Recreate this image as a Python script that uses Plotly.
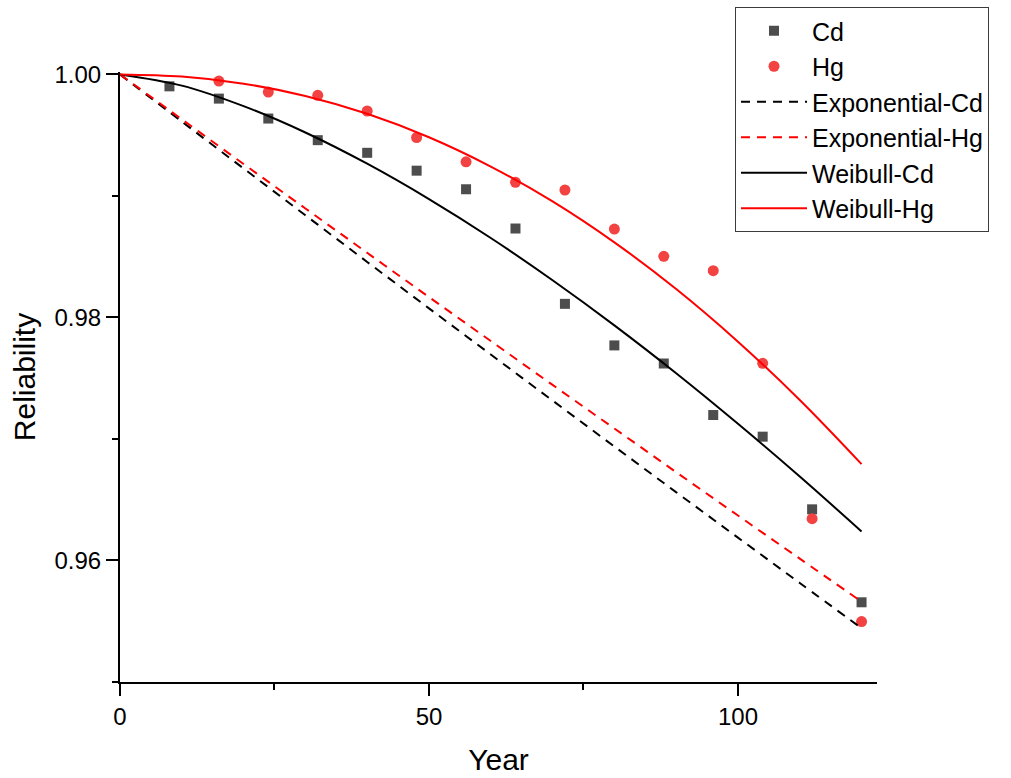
import plotly.graph_objects as go

# Observed data (years, reliability)
cd_years = [8, 16, 24, 32, 40, 48, 56, 64, 72, 80, 88, 96, 104, 112, 120]
cd_rel = [0.99902, 0.99801, 0.99637, 0.99459, 0.99355, 0.99208, 0.99055, 0.98732,
          0.98112, 0.97770, 0.97621, 0.97197, 0.97019, 0.96421, 0.95656]
hg_years = [16, 24, 32, 40, 48, 56, 64, 72, 80, 88, 96, 104, 112, 120]
hg_rel = [0.99945, 0.99855, 0.99828, 0.99699, 0.99481, 0.99281, 0.99112, 0.99049,
          0.98727, 0.98503, 0.98385, 0.97623, 0.96344, 0.95497]

# Fitted curves
curve_years = [0, 10, 20, 30, 40, 50, 60, 70, 80, 90, 100, 110, 120]
exp_cd = [1.0, 0.99612, 0.99226, 0.98841, 0.98457, 0.98075, 0.97695, 0.97316,
          0.96938, 0.96562, 0.96188, 0.95815, 0.95443]
exp_hg = [1.0, 0.99631, 0.99263, 0.98897, 0.98532, 0.98168, 0.97806, 0.97445,
          0.97086, 0.96727, 0.96370, 0.96015, 0.95661]
wei_cd = [1.0, 0.99908, 0.99739, 0.99522, 0.99265, 0.98974, 0.98654, 0.98306,
          0.97935, 0.97541, 0.97125, 0.96691, 0.96239]
wei_hg = [1.0, 0.99982, 0.99924, 0.99823, 0.99676, 0.99483, 0.99242, 0.98955,
          0.98618, 0.98234, 0.97801, 0.97321, 0.96793]

x_ticks = [0, 50, 100]
y_ticks = [0.96, 0.98, 1.00]
y_tick_labels = ["0.96", "0.98", "1.00"]

FONT = "Liberation Sans, Arial, sans-serif"

fig = go.Figure()
fig.add_trace(go.Scatter(x=cd_years, y=cd_rel, mode="markers", name="Cd",
                         marker=dict(symbol="square", size=10, color="rgb(77,77,77)")))
fig.add_trace(go.Scatter(x=hg_years, y=hg_rel, mode="markers", name="Hg",
                         marker=dict(symbol="circle", size=11, color="rgb(242,66,66)")))
fig.add_trace(go.Scatter(x=curve_years, y=exp_cd, mode="lines", name="Exponential-Cd",
                         line=dict(color="black", width=2, dash="9px,7px", shape="spline")))
fig.add_trace(go.Scatter(x=curve_years, y=exp_hg, mode="lines", name="Exponential-Hg",
                         line=dict(color="red", width=2, dash="9px,7px", shape="spline")))
fig.add_trace(go.Scatter(x=curve_years, y=wei_cd, mode="lines", name="Weibull-Cd",
                         line=dict(color="black", width=2, shape="spline")))
fig.add_trace(go.Scatter(x=curve_years, y=wei_hg, mode="lines", name="Weibull-Hg",
                         line=dict(color="red", width=2, shape="spline")))

plot_l, plot_r, plot_t, plot_b = 120, 1011 - 134, 72, 778 - 96

fig.update_layout(
    width=1011, height=778,
    margin=dict(l=120, r=134, t=72, b=96, autoexpand=False),
    paper_bgcolor="white", plot_bgcolor="white",
    font=dict(family=FONT, color="black"),
    showlegend=True,
    legend=dict(x=(735 - plot_l) / (plot_r - plot_l), y=(plot_b - 7) / (plot_b - plot_t),
                xanchor="left", yanchor="top",
                bordercolor="rgb(60,60,60)", borderwidth=1, bgcolor="white",
                font=dict(size=25, family=FONT), tracegroupgap=0, itemwidth=66),
    xaxis=dict(range=[0, 122.5], tickvals=x_ticks, showgrid=False, zeroline=False,
               showline=True, linecolor="black", linewidth=2,
               ticks="outside", ticklen=12, tickwidth=2, tickcolor="black",
               tickfont=dict(size=24, family=FONT),
               minor=dict(tickvals=[25, 75], ticks="outside", ticklen=6, tickwidth=2, tickcolor="black"),
               title=dict(text="Year", font=dict(size=30, family=FONT), standoff=20)),
    yaxis=dict(range=[0.95, 1.0002], tickvals=y_ticks, ticktext=y_tick_labels,
               showgrid=False, zeroline=False,
               showline=True, linecolor="black", linewidth=2,
               ticks="outside", ticklen=12, tickwidth=2, tickcolor="black",
               tickfont=dict(size=24, family=FONT),
               minor=dict(tickvals=[0.95, 0.97, 0.99], ticks="outside", ticklen=6, tickwidth=2, tickcolor="black"),
               title=dict(text="Reliability", font=dict(size=30, family=FONT), standoff=10)),
)

fig.write_html("out.html")
